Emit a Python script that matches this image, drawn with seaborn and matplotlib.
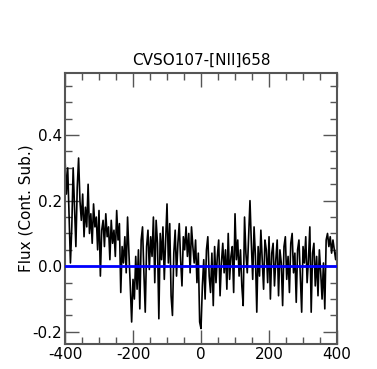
import numpy as np
import pandas as pd
import matplotlib
matplotlib.use("Agg")
import matplotlib.pyplot as plt
import seaborn as sns
from matplotlib.ticker import MultipleLocator

# spectrum (continuum subtracted), 4 km/s sampling from -400 to 400
velocity = np.arange(-400, 401, 4)
flux = [
    0.33, 0.22, 0.30, 0.15, 0.01, 0.12, 0.30, 0.18, 0.06, 0.24,
    0.33, 0.20, 0.14, 0.22, 0.09, 0.18, 0.12, 0.25, 0.10, 0.16,
    0.07, 0.19, 0.12, 0.15, 0.05, 0.17, -0.03, 0.11, 0.14, 0.06,
    0.16, 0.09, 0.12, 0.02, 0.14, 0.07, 0.11, 0.03, 0.17, 0.08,
    0.13, -0.08, 0.06, 0.01, 0.09, -0.02, 0.15, 0.04, -0.06, -0.17,
    -0.04, -0.10, 0.03, -0.07, 0.05, -0.13, 0.08, 0.12, -0.02, -0.14,
    0.06, 0.11, -0.01, 0.09, 0.03, 0.15, -0.05, 0.14, 0.07, -0.16,
    0.10, 0.02, 0.12, -0.04, 0.08, 0.19, 0.01, 0.13, -0.09, -0.15,
    0.04, 0.11, -0.03, 0.07, 0.13, 0.02, -0.06, 0.09, 0.05, 0.12,
    0.03, 0.10, -0.02, 0.12, 0.06, 0.01, 0.08, -0.05, 0.04, -0.17,
    -0.19, -0.06, 0.02, -0.10, 0.05, 0.09, -0.03, -0.08, 0.04, -0.12,
    0.06, -0.05, 0.03, 0.08, -0.09, 0.01, 0.07, -0.02, 0.05, -0.07,
    0.10, -0.04, 0.03, 0.06, -0.08, 0.16, 0.02, 0.08, -0.03, 0.05,
    -0.06, -0.12, 0.15, 0.04, -0.02, 0.09, 0.20, 0.07, -0.04, 0.12,
    0.03, -0.14, 0.06, -0.03, 0.11, 0.02, -0.07, 0.08, 0.05, -0.05,
    0.09, -0.10, 0.04, 0.07, -0.06, 0.02, 0.08, -0.09, 0.05, 0.01,
    -0.12, 0.06, 0.09, -0.04, 0.03, -0.08, 0.07, 0.10, -0.02, 0.04,
    -0.11, 0.05, 0.08, -0.03, -0.14, 0.06, 0.01, 0.09, -0.05, 0.02,
    0.12, -0.14, 0.04, 0.07, -0.06, 0.03, -0.09, 0.05, -0.02, -0.10,
    0.01, -0.13, 0.08, 0.10, 0.06, 0.09, 0.04, 0.08, 0.05, 0.02,
    0.06,
]
baseline = 0.0
title = "CVSO107-[NII]658"

df = pd.DataFrame({"v": velocity, "flux": flux})

sns.set_style("ticks")
plt.rcParams["font.family"] = ["DejaVu Sans"]
plt.rcParams["axes.unicode_minus"] = False
plt.rcParams["text.color"] = "black"
plt.rcParams["xtick.labelcolor"] = "black"
plt.rcParams["ytick.labelcolor"] = "black"
plt.rcParams["axes.labelcolor"] = "black"

fig = plt.figure(figsize=(3.77, 3.69), dpi=100)
ax = fig.add_axes([0.1724, 0.0678, 0.7216, 0.7342])

sns.lineplot(data=df, x="v", y="flux", ax=ax, color="black", linewidth=1.2,
             estimator=None)
ax.axhline(baseline, color="blue", linewidth=2.0, zorder=5)

ax.set_xlim(-400, 400)
ax.set_ylim(-0.237, 0.589)
ax.xaxis.set_major_locator(MultipleLocator(200))
ax.xaxis.set_minor_locator(MultipleLocator(50))
ax.yaxis.set_major_locator(MultipleLocator(0.2))
ax.yaxis.set_minor_locator(MultipleLocator(0.05))
ax.yaxis.set_major_formatter(matplotlib.ticker.FormatStrFormatter("%.1f"))

ax.tick_params(which="both", direction="in", top=True, right=True,
               color="#555555", labelsize=11, width=1.0)
ax.tick_params(which="major", length=10, pad=2)
ax.tick_params(which="minor", length=5)
for s in ax.spines.values():
    s.set_color("#555555")
    s.set_linewidth(1.5)

ax.set_title(title, fontsize=11)
ax.set_ylabel("Flux (Cont. Sub.)", fontsize=11)
ax.yaxis.set_label_coords(-0.115, 0.5)
ax.set_xlabel("V (km s$^{-1}$)", fontsize=11)

fig.savefig("out.png", dpi=100)
